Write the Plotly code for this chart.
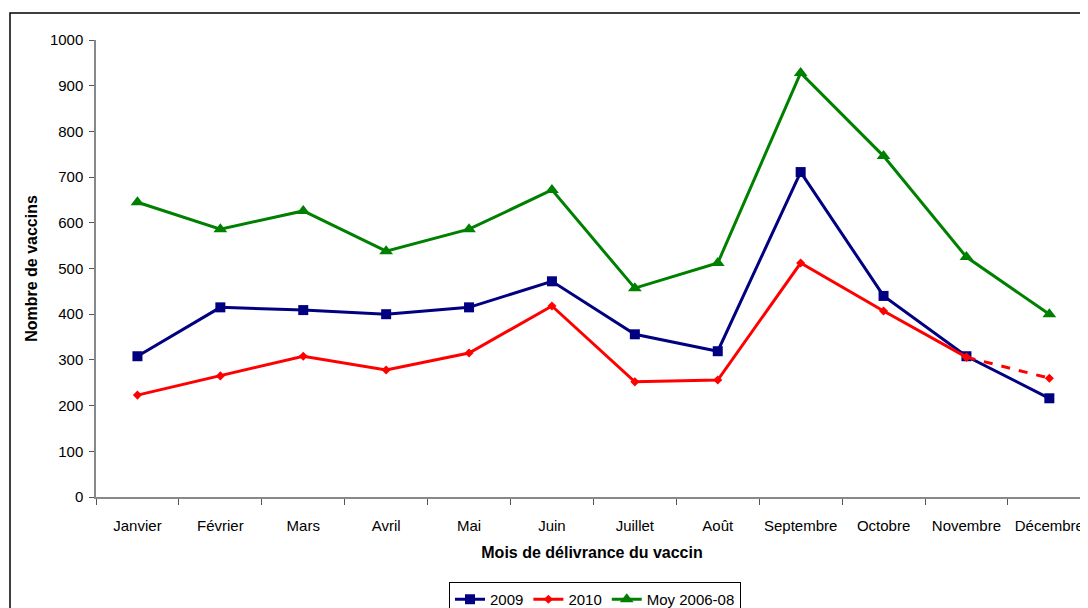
import plotly.graph_objects as go

months = ["Janvier", "Février", "Mars", "Avril", "Mai", "Juin", "Juillet",
          "Août", "Septembre", "Octobre", "Novembre", "Décembre"]
v2009 = [308, 415, 409, 400, 415, 472, 356, 319, 711, 440, 308, 216]
v2010 = [223, 265, 308, 278, 315, 418, 252, 256, 512, 407, 306, 260]
vmoy = [645, 586, 626, 538, 586, 672, 457, 512, 928, 746, 525, 400]

# page body has an 8px margin, so the figure is offset by 8px
OFF = 8
W, H = 1088 - OFF, 608 - OFF
L, R, T = 96 - OFF, 0, 40 - OFF
PH = 457
B = H - T - PH
pw = W - L - R

fig = go.Figure()
fig.add_trace(go.Scatter(x=months, y=v2009, name="2009", mode="lines+markers",
                         line=dict(color="#000080", width=3),
                         marker=dict(symbol="square", size=10, color="#000080")))
fig.add_trace(go.Scatter(x=months[:11], y=v2010[:11], name="2010", mode="lines+markers",
                         line=dict(color="#FF0000", width=3),
                         marker=dict(symbol="diamond", size=7, color="#FF0000")))
fig.add_trace(go.Scatter(x=months[10:], y=v2010[10:], name="2010", mode="lines+markers",
                         showlegend=False,
                         line=dict(color="#FF0000", width=3, dash="dash"),
                         marker=dict(symbol="diamond", size=7, color="#FF0000")))
fig.add_trace(go.Scatter(x=months, y=vmoy, name="Moy 2006-08", mode="lines+markers",
                         line=dict(color="#008000", width=3),
                         marker=dict(symbol="triangle-up", size=12, color="#008000")))

fig.update_layout(
    width=W, height=H,
    margin=dict(l=L, r=R, t=T, b=B, pad=0, autoexpand=False),
    paper_bgcolor="white", plot_bgcolor="white",
    font=dict(family="Liberation Sans, Arial, sans-serif", size=15, color="black"),
    xaxis=dict(type="category", categoryorder="array", categoryarray=months,
               range=[-0.5, -0.5 + pw / 82.9], tickangle=0,
               tickson="boundaries", ticks="outside", ticklen=6, tickcolor="#555",
               showline=True, linecolor="#888", linewidth=1.5, showgrid=False,
               zeroline=False, tickfont=dict(size=15), ticklabelstandoff=14,
               title=dict(text="<b>Mois de délivrance du vaccin</b>", font=dict(size=16),
                          standoff=14)),
    yaxis=dict(range=[0, 1000], dtick=100, ticks="outside", ticklen=5, tickcolor="#555",
               showline=True, linecolor="#888", linewidth=1.5, showgrid=False,
               zeroline=False, tickfont=dict(size=15), ticklabelstandoff=3,
               title=dict(text="<b>Nombre de vaccins</b>", font=dict(size=16), standoff=8)),
    legend=dict(orientation="h", x=(595 - 96) / pw, xanchor="center",
                y=(T + PH - (582 - OFF)) / PH, yanchor="top",
                bordercolor="black", borderwidth=1, bgcolor="white",
                font=dict(size=15), tracegroupgap=0),
    shapes=[dict(type="rect", xref="paper", yref="paper",
                 x0=(10 - 96) / pw, x1=1.2, y0=-0.4, y1=(T + PH - (13 - OFF)) / PH,
                 line=dict(color="black", width=1.5), layer="below")],
)

fig.write_html("out.html")
